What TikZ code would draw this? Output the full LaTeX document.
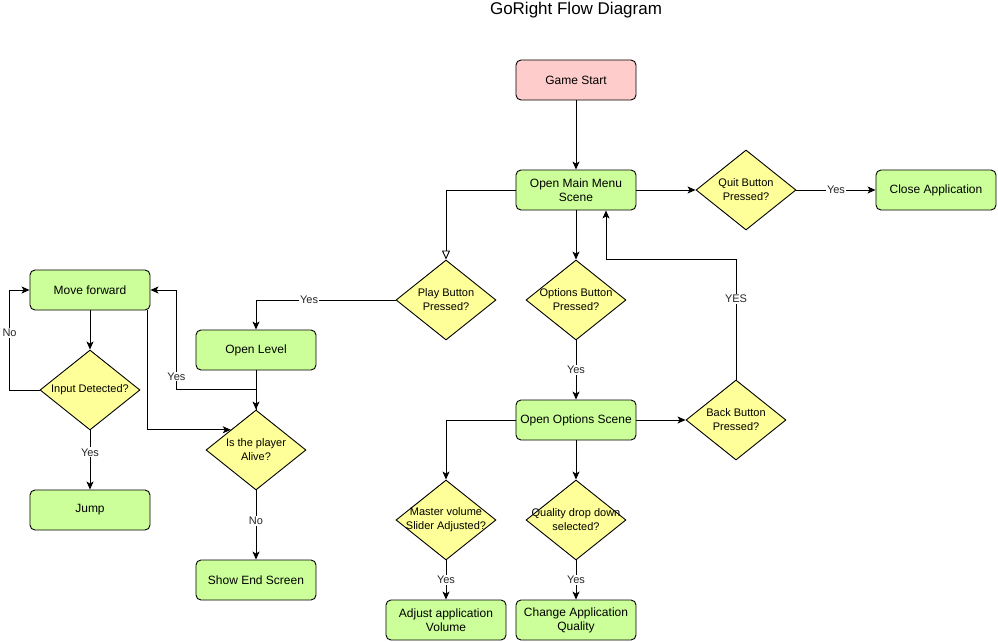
\documentclass[tikz,border=0pt]{standalone}
\usepackage{fontspec}
\setmainfont{Liberation Sans}
\usetikzlibrary{shapes.geometric,arrows.meta,calc}
\definecolor{boxgreen}{HTML}{CCFF99}
\definecolor{diayellow}{HTML}{FFFF99}
\definecolor{startpink}{HTML}{FFCCCC}
\tikzset{
  box/.style={draw=black, line width=0.9pt, rounded corners=5pt, fill=boxgreen,
    minimum width=120pt, minimum height=40pt, inner sep=0pt, align=center,
    font=\fontsize{12}{14}\selectfont},
  dia/.style={draw=black, line width=0.9pt, shape=diamond, fill=diayellow,
    minimum width=100pt, minimum height=80pt, inner sep=0pt, aspect=1.25},
  diatext/.style={label={[align=center,font=\fontsize{11}{14}\selectfont]center:#1}},
  arr/.style={draw=black, line width=0.9pt, -{Stealth[length=8pt,width=7pt,inset=2pt]}},
  openarr/.style={draw=black, line width=0.9pt, -{Triangle[open,length=9pt,width=8pt,fill=white]}},
  lbl/.style={fill=white, inner sep=1pt, text=black!85, font=\fontsize{11}{13}\selectfont}
}
\begin{document}
\begin{tikzpicture}[x=1pt,y=-1pt]
\useasboundingbox (0,0) rectangle (998,642);
\node[font=\fontsize{17}{20}\selectfont] (title) at (576,10) {GoRight Flow Diagram};
% nodes
\node[box, fill=startpink] (start) at (576,80) {Game Start};
\node[box] (menu) at (576,190) {Open Main Menu\\Scene};
\node[dia, diatext={Quit Button\\Pressed?}] (quit) at (746,190) {};
\node[box] (close) at (936,190) {Close Application};
\node[dia, diatext={Play Button\\Pressed?}] (play) at (446,300) {};
\node[dia, diatext={Options Button\\Pressed?}] (options) at (576,300) {};
\node[box] (level) at (256,350) {Open Level};
\node[box] (move) at (90,290) {Move forward};
\node[dia, diatext={Input Detected?}] (input) at (90,390) {};
\node[box] (jump) at (90,510) {Jump};
\node[dia, diatext={Is the player\\Alive?}] (alive) at (256,450) {};
\node[box] (endscreen) at (256,580) {Show End Screen};
\node[box] (optscene) at (576,420) {Open Options Scene};
\node[dia, diatext={Back Button\\Pressed?}] (back) at (736,420) {};
\node[dia, diatext={Master volume\\Slider Adjusted?}] (master) at (446,520) {};
\node[dia, diatext={Quality drop down\\selected?}] (quality) at (576,520) {};
\node[box] (adjust) at (446,620) {Adjust application\\Volume};
\node[box] (change) at (576,620) {Change Application\\Quality};
% edges
\draw[arr] (start) -- (menu);
\draw[arr] (menu) -- (quit);
\draw[arr] (quit) -- node[lbl]{Yes} (close);
\draw[openarr] (menu.west) -| (play.north);
\draw[arr] (menu) -- (options);
\draw[arr] (play.west) -| node[lbl, pos=0.31]{Yes} (level.north);
\draw[arr] (options) -- node[lbl]{Yes} (optscene);
\draw[arr] (optscene) -- (back);
\draw[arr] (back.north) -- node[lbl, pos=0.67]{YES} ++(0,-120) -| ([xshift=30pt]menu.south);
\draw[arr] (optscene.west) -| (master.north);
\draw[arr] (optscene) -- (quality);
\draw[arr] (master) -- node[lbl]{Yes} (adjust);
\draw[arr] (quality) -- node[lbl]{Yes} (change);
\draw[arr] (level) -- (alive);
\draw[arr] (alive.north) -- ++(0,-20) -| node[lbl, pos=0.565]{Yes} ([xshift=26pt]move.east) -- (move.east);
\draw[arr] (move) -- (input);
\draw[arr] (input.west) -- ++(-30,0) |- node[lbl, pos=0.285]{No} (move.west);
\draw[arr] (input) -- node[lbl, pos=0.37]{Yes} (jump);
\draw[arr] ([xshift=-3pt]move.south east) |- (alive.north west);
\draw[arr] (alive) -- node[lbl, pos=0.44]{No} (endscreen);
\end{tikzpicture}
\end{document}
